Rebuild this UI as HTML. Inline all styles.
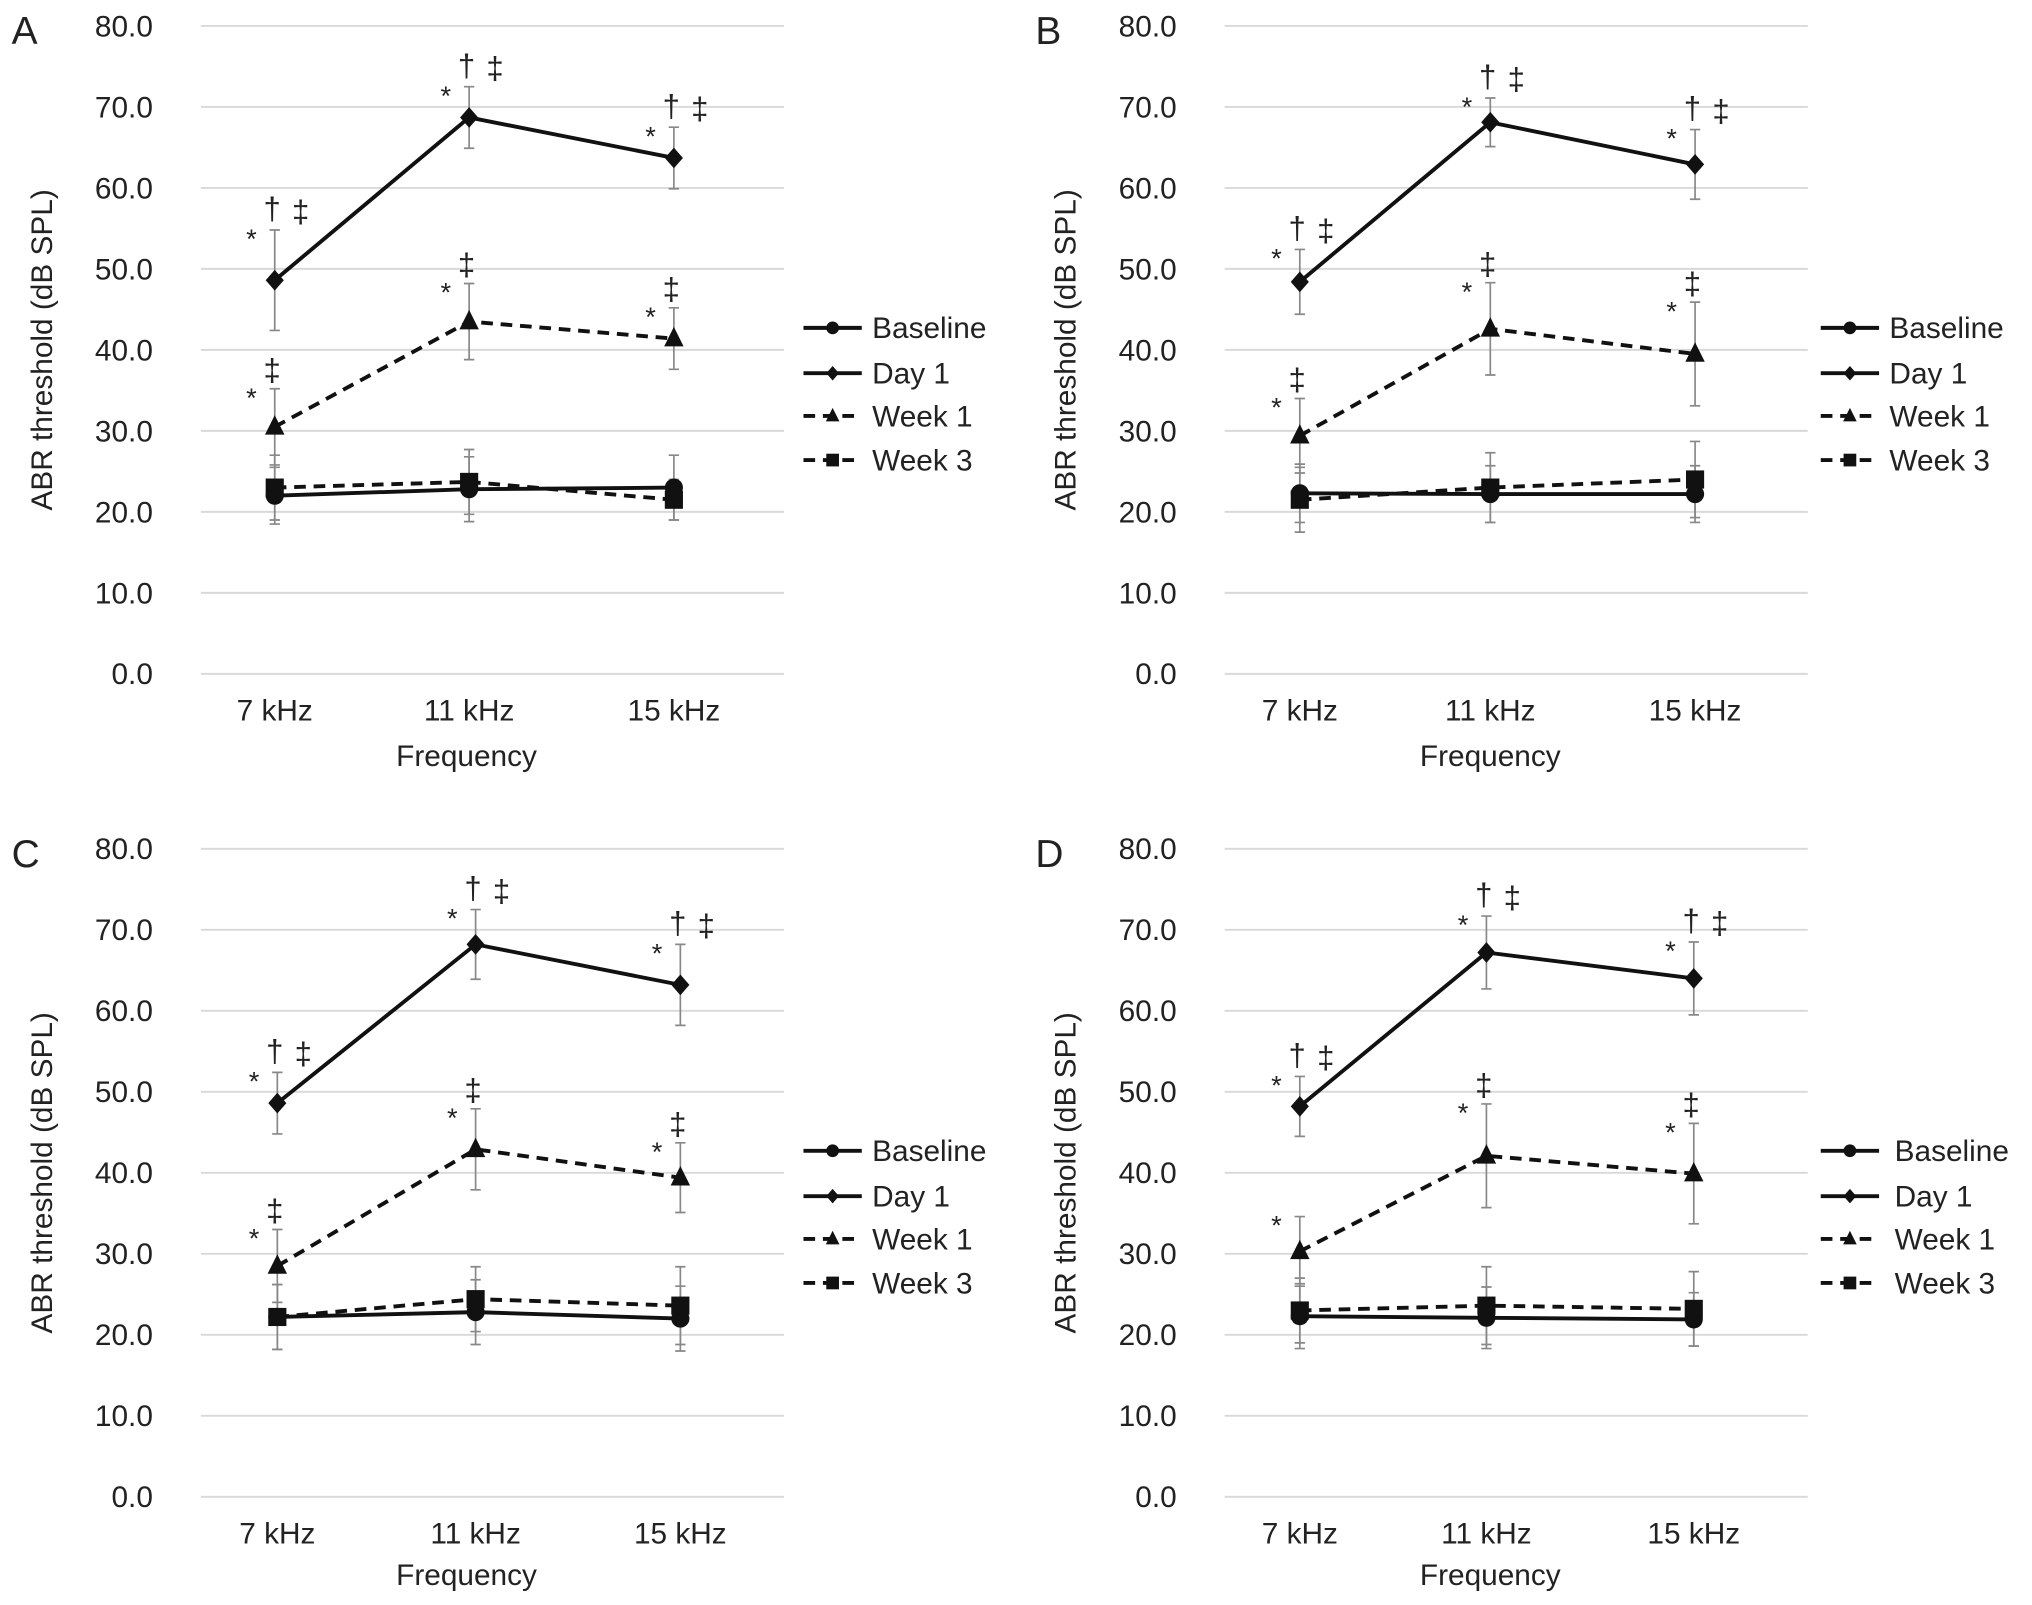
<!DOCTYPE html>
<html><head><meta charset="utf-8"><style>
html,body{margin:0;padding:0;background:#fff}
svg{display:block}
text{font-family:"Liberation Sans",Arial,sans-serif;fill:#222}
</style></head><body>
<svg id="chart" width="2032" height="1605" viewBox="0 0 1568 1238.5" xmlns="http://www.w3.org/2000/svg"></svg>
<script>
const categories = ["7 kHz","11 kHz","15 kHz"];
const yTicks = [0,10,20,30,40,50,60,70,80];
const seriesNames = ["Baseline","Day 1","Week 1","Week 3"];
// Panel A
const aBaseline=[22,22.8,23], aDay1=[48.6,68.7,63.7], aWeek1=[30.5,43.5,41.4], aWeek3=[23,23.7,21.5];
const aBaselineErr=[3.5,4,4], aDay1Err=[6.2,3.8,3.8], aWeek1Err=[4.7,4.7,3.8], aWeek3Err=[4,4,2.5];
// Panel B
const bBaseline=[22.3,22.2,22.2], bDay1=[48.4,68.1,62.9], bWeek1=[29.4,42.6,39.5], bWeek3=[21.5,23,24];
const bBaselineErr=[3.6,3.5,3.5], bDay1Err=[4,3,4.3], bWeek1Err=[4.6,5.7,6.4], bWeek3Err=[4,4.3,4.7];
// Panel C
const cBaseline=[22.2,22.8,22], cDay1=[48.6,68.2,63.2], cWeek1=[28.5,42.9,39.4], cWeek3=[22.2,24.4,23.6];
const cBaselineErr=[4,4,4], cDay1Err=[3.8,4.3,5], cWeek1Err=[4.5,5,4.3], cWeek3Err=[4,4,4.8];
// Panel D
const dBaseline=[22.3,22.1,21.9], dDay1=[48.2,67.2,64], dWeek1=[30.3,42.1,39.9], dWeek3=[23,23.6,23.2];
const dBaselineErr=[4,3.8,3.3], dDay1Err=[3.7,4.5,4.5], dWeek1Err=[4.3,6.4,6.2], dWeek3Err=[4,4.8,4.6];
// significance annotations [day1 per category], [week1 per category]
const aDay1Sig=["*†‡","*†‡","*†‡"], aWeek1Sig=["*‡","*‡","*‡"];
const bDay1Sig=["*†‡","*†‡","*†‡"], bWeek1Sig=["*‡","*‡","*‡"];
const cDay1Sig=["*†‡","*†‡","*†‡"], cWeek1Sig=["*‡","*‡","*‡"];
const dDay1Sig=["*†‡","*†‡","*†‡"], dWeek1Sig=["*","*‡","*‡"];

const NS="http://www.w3.org/2000/svg";
const svg=document.getElementById('chart');
function el(tag,attrs,parent,txt){const e=document.createElementNS(NS,tag);for(const k in attrs)e.setAttribute(k,attrs[k]);if(txt!==undefined)e.textContent=txt;(parent||svg).appendChild(e);return e;}

const panels=[
 {id:'a',letter:'A',ox:0,oy:0,xs:[212,362,520],data:[aBaseline,aDay1,aWeek1,aWeek3],err:[aBaselineErr,aDay1Err,aWeek1Err,aWeek3Err],sig:[aDay1Sig,aWeek1Sig],lx:620,fy:591},
 {id:'b',letter:'B',ox:790,oy:0,xs:[213,360,518],data:[bBaseline,bDay1,bWeek1,bWeek3],err:[bBaselineErr,bDay1Err,bWeek1Err,bWeek3Err],sig:[bDay1Sig,bWeek1Sig],lx:615,fy:591},
 {id:'c',letter:'C',ox:0,oy:635,xs:[214,367,525],data:[cBaseline,cDay1,cWeek1,cWeek3],err:[cBaselineErr,cDay1Err,cWeek1Err,cWeek3Err],sig:[cDay1Sig,cWeek1Sig],lx:620,fy:588},
 {id:'d',letter:'D',ox:790,oy:635,xs:[213,357,517],data:[dBaseline,dDay1,dWeek1,dWeek3],err:[dBaselineErr,dDay1Err,dWeek1Err,dWeek3Err],sig:[dDay1Sig,dWeek1Sig],lx:615,fy:588,tx:57}
];
const dashes=[null,null,"9,6","9,6"];

function marker(kind,x,y,g){
 let m;
 if(kind===0)m=el('circle',{cx:x,cy:y,r:7,fill:'#111'},g);
 else if(kind===1)m=el('polygon',{points:`${x},${y-8} ${x+7},${y} ${x},${y+8} ${x-7},${y}`,fill:'#111'},g);
 else if(kind===2)m=el('polygon',{points:`${x},${y-9} ${x+7.5},${y+6} ${x-7.5},${y+6}`,fill:'#111'},g);
 else m=el('rect',{x:x-7,y:y-7,width:14,height:14,fill:'#111'},g);
 return m;
}

panels.forEach(p=>{
 const g=el('g',{transform:`translate(${p.ox},${p.oy})`});
 
 
 const yS=v=>520-v*6.25;
 const xS=i=>p.xs[i];
 const lt=el('text',{x:9,y:34,'font-size':30},g,p.letter);
 
 
 yTicks.forEach(t=>{
  const gl=el('line',{x1:155,x2:605,y1:yS(t),y2:yS(t),stroke:'#d9d9d9','stroke-width':1.5},g);
  
  
  const tl=el('text',{x:118,y:yS(t)+8,'text-anchor':'end','font-size':23},g,t.toFixed(1));
  
  
 });
 categories.forEach((c,i)=>{
  const tl=el('text',{x:xS(i),y:556,'text-anchor':'middle','font-size':23},g,c);
  
  
 });
 const xt=el('text',{x:360,y:p.fy,'text-anchor':'middle','font-size':23},g,'Frequency');
 
 
 const yt=el('text',{transform:'translate(40,270) rotate(-90)','text-anchor':'middle','font-size':23},g,'ABR threshold (dB SPL)');
 
 
 [0,3,2,1].forEach(s=>{
  p.data[s].forEach((v,i)=>{
   const e=p.err[s][i],x=xS(i);
   const eb=el('path',{d:`M${x},${yS(v-e)}V${yS(v+e)}M${x-4},${yS(v-e)}h8M${x-4},${yS(v+e)}h8`,stroke:'#888','stroke-width':1.3,fill:'none'},g);
   
   
  });
 });
 [0,3,2,1].forEach(s=>{
  const pts=p.data[s].map((v,i)=>xS(i)+','+yS(v)).join(' ');
  const a={points:pts,fill:'none',stroke:'#111','stroke-width':3};
  if(dashes[s])a['stroke-dasharray']=dashes[s];
  const pl=el('polyline',a,g);
  
  
  p.data[s].forEach((v,i)=>{
   const m=marker(s,xS(i),yS(v),g);
   
   
  });
 });
 [[1,0],[2,1]].forEach(([s,k])=>{
  p.data[s].forEach((v,i)=>{
   const top=yS(v+p.err[s][i]);
   const str=p.sig[k][i];const x=xS(i);
   let off=-18;
   for(const ch of str){
    let y,fs=24;
    if(ch==='*'){y=top+14;fs=21;}
    else if(ch==='†'){y=top-8;}
    else {y=top-6;}
    const t=el('text',{x:x+off,y:y,'text-anchor':'middle','font-size':fs},g,ch);
    
    
    off+=(ch==='*')?16:22;
   }
  });
 });
 const lg=el('g',{transform:`translate(${p.lx},0)`},g);
 
 
 const rows=[253,288,321,355];
 seriesNames.forEach((n,s)=>{
  const y=rows[s];
  const a={x1:0,x2:45,y1:y,y2:y,stroke:'#111','stroke-width':3};
  if(dashes[s])a['stroke-dasharray']='9,6';
  el('line',a,lg);
  const m=marker(s,22.5,y,lg);
  m.setAttribute('transform',`translate(${22.5*0.3},${y*0.3}) scale(0.7)`);
  const tx=el('text',{x:(p.tx||53),y:y+8,'font-size':23},lg,n);
  
  
 });
});
</script>
</body></html>
